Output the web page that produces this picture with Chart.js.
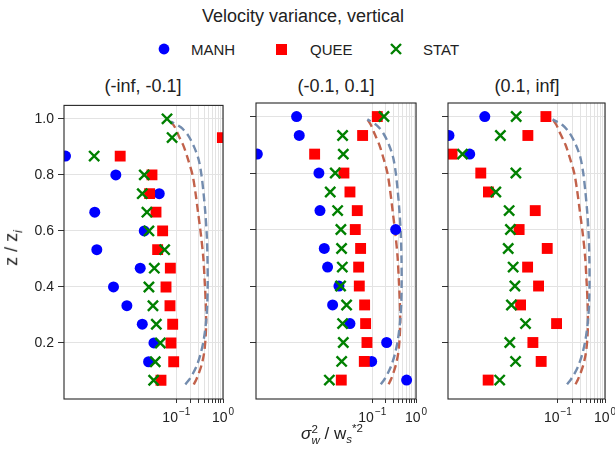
<!DOCTYPE html>
<html>
<head>
<meta charset="utf-8">
<script src="https://cdn.jsdelivr.net/npm/chart.js@4.4.1/dist/chart.umd.min.js"></script>
<style>
  html, body { margin: 0; padding: 0; background: #fff; }
  body { width: 615px; height: 456px; position: relative; overflow: hidden;
         font-family: "Liberation Sans", Arial, sans-serif; color: #222; }
  canvas { position: absolute; }
  .txt { position: absolute; white-space: nowrap; transform: translate(-50%, -50%); }
  #title { left: 303px; top: 16px; font-size: 18px; }
  .panel-title { top: 86px; font-size: 18px; }
  .leg { position: absolute; font-size: 15px; transform: translateY(-50%); top: 49px; }
  .mark { position: absolute; top: 49px; }
  #xtitle { left: 332px; top: 434px; font-size: 17px; }
  #ytitle { left: 13px; top: 248px; font-size: 18px; transform: translate(-50%, -50%) rotate(-90deg); }
  .ss { display: inline-block; vertical-align: -0.45em; font-size: 0.68em; line-height: 0.95; }
  .ss span { display: block; }
  sub, sup { font-size: 0.68em; }
</style>
</head>
<body>
<div id="title" class="txt">Velocity variance, vertical</div>

<svg class="mark" style="left:158px;margin-top:-6px" width="12" height="12"><circle cx="6" cy="6" r="5.4" fill="#0000ff"/></svg>
<div class="leg" style="left:191px">MANH</div>
<svg class="mark" style="left:276px;margin-top:-5px" width="11" height="11"><rect x="0" y="0" width="11" height="11" fill="#ff0000"/></svg>
<div class="leg" style="left:310px">QUEE</div>
<svg class="mark" style="left:390px;margin-top:-6px" width="12" height="12"><path d="M1 1 L11 11 M11 1 L1 11" stroke="#008000" stroke-width="2.4"/></svg>
<div class="leg" style="left:423px">STAT</div>

<div class="txt panel-title" style="left:143px">(-inf, -0.1]</div>
<div class="txt panel-title" style="left:336px">(-0.1, 0.1]</div>
<div class="txt panel-title" style="left:527px">(0.1, inf]</div>

<canvas id="p1"></canvas>
<canvas id="p2"></canvas>
<canvas id="p3"></canvas>

<div id="xtitle" class="txt"><i>σ</i><span class="ss"><span>2</span><span><i>w</i></span></span> / w<sub><i>s</i></sub><sup>*2</sup></div>
<div id="ytitle" class="txt">z / z<sub><i>i</i></sub></div>

<script>
// heights (z / zi), bottom to top
const zLevels = [0.067, 0.133, 0.2, 0.267, 0.333, 0.4, 0.467, 0.533, 0.6, 0.667, 0.733, 0.8, 0.867, 0.933, 1.0];

// (-inf, -0.1]
const manhNeg = [null, 0.0254, 0.0331, 0.0186, 0.00869, 0.00449, 0.0168, 0.00197, 0.0205, 0.00178, 0.043, 0.00504, 0.00042, null, null];
const queeNeg = [0.0468, 0.0877, 0.0767, 0.0834, 0.073, 0.060, 0.0743, 0.0397, 0.0508, 0.0366, 0.0267, 0.030, 0.00625, 0.97, null];
const statNeg = [0.0326, 0.0353, 0.0453, 0.0372, 0.0315, 0.0258, 0.0337, 0.0561, 0.0258, 0.0234, 0.0186, 0.0205, 0.00173, 0.081, 0.063];

// (-0.1, 0.1]
const manhMid = [0.61, 0.0966, 0.213, 0.0308, 0.01235, 0.01725, 0.00948, 0.00796, 0.342, 0.00634, null, 0.0060, 0.000234, 0.00213, 0.00185];
const queeMid = [0.0195, 0.0656, 0.0755, 0.0703, 0.0667, 0.0504, 0.0487, 0.054, 0.0408, 0.0453, 0.0308, 0.0224, 0.00479, 0.060, 0.130];
const statMid = [0.0104, 0.0199, 0.0217, 0.0209, 0.0258, 0.0188, 0.0206, 0.0198, 0.0191, 0.0161, 0.0109, 0.0142, 0.0217, 0.0209, 0.185];

// (0.1, inf]
const manhPos = [null, null, null, null, null, null, null, null, null, null, null, null, 0.00134, 0.000486, 0.0028];
const queePos = [0.0033, 0.0441, 0.0294, 0.0937, 0.0161, 0.0388, 0.0227, 0.0593, 0.0150, 0.033, 0.00335, 0.0023, 0.000565, 0.023, 0.0556];
const statPos = [0.0058, 0.0126, 0.0095, 0.0205, 0.0103, 0.0122, 0.0112, 0.0088, 0.0098, 0.0092, 0.0048, 0.0128, 0.00094, 0.006, 0.013];

// reference profiles (dashed)
const curveAZ = [0.052, 0.07, 0.09, 0.12, 0.16, 0.21, 0.27, 0.34, 0.42, 0.50, 0.58, 0.66, 0.74, 0.80, 0.855, 0.90, 0.94, 0.97, 0.99];
const curveAX = [0.156, 0.19, 0.225, 0.275, 0.33, 0.385, 0.43, 0.46, 0.47, 0.465, 0.45, 0.42, 0.38, 0.345, 0.30, 0.24, 0.18, 0.125, 0.077];
const curveBZ = [0.052, 0.07, 0.09, 0.12, 0.16, 0.21, 0.27, 0.34, 0.42, 0.50, 0.58, 0.66, 0.74, 0.80, 0.855, 0.90, 0.94, 0.97, 0.99];
const curveBX = [0.236, 0.268, 0.30, 0.345, 0.39, 0.42, 0.435, 0.428, 0.405, 0.38, 0.34, 0.295, 0.255, 0.222, 0.178, 0.145, 0.112, 0.093, 0.077];

const yTicks = [0.2, 0.4, 0.6, 0.8, 1.0];
const xTicks = [0.1, 0.2, 0.3, 0.4, 0.5, 0.6, 0.7, 0.8, 0.9, 1.0];
const xLabelExps = [-1, 0];

const FONT = '"Liberation Sans", Arial, sans-serif';
const GRID = '#e3e3e3';

const panels = [
  { id: 'p1', left: 64, right: 223, xMin: 0.00039, yLabels: true, manh: manhNeg, quee: queeNeg, stat: statNeg },
  { id: 'p2', left: 256, right: 416, xMin: 0.000218, yLabels: false, manh: manhMid, quee: queeMid, stat: statMid },
  { id: 'p3', left: 448, right: 605, xMin: 0.000463, yLabels: false, manh: manhPos, quee: queePos, stat: statPos }
];

function points(vals) {
  return zLevels.map((z, i) => ({ x: vals[i], y: z })).filter(p => p.x != null);
}
function curve(zs, xs) {
  return zs.map((z, i) => ({ x: xs[i], y: z }));
}

// box around each panel
const framePlugin = {
  id: 'frame',
  afterDatasetsDraw(chart) {
    const { ctx, chartArea: a } = chart;
    ctx.save();
    ctx.strokeStyle = '#262626';
    ctx.lineWidth = 1.1;
    ctx.strokeRect(a.left, a.top, a.right - a.left, a.bottom - a.top);
    ctx.restore();
  }
};

// 10^n labels on the log axis
const powerLabels = {
  id: 'powerLabels',
  afterDraw(chart) {
    const { ctx, chartArea: a } = chart;
    const sx = chart.scales.x;
    ctx.save();
    ctx.fillStyle = '#222';
    ctx.textBaseline = 'alphabetic';
    ctx.textAlign = 'left';
    xLabelExps.forEach(e => {
      const px = sx.getPixelForValue(Math.pow(10, e));
      const base = '10';
      const sup = e < 0 ? '\u2212' + (-e) : String(e);
      ctx.font = '14px ' + FONT;
      const wb = ctx.measureText(base).width;
      ctx.font = '10px ' + FONT;
      const ws = ctx.measureText(sup).width;
      const x0 = px - (wb + ws + 1) / 2;
      ctx.font = '14px ' + FONT;
      ctx.fillText(base, x0, a.bottom + 23);
      ctx.font = '10px ' + FONT;
      ctx.fillText(sup, x0 + wb + 1, a.bottom + 16);
    });
    ctx.restore();
  }
};

const padTop = 10, padRight = 12, yAxisW = 64, xAxisH = 36;
const areaTop = 103, areaBottom = 399;

panels.forEach(p => {
  const cv = document.getElementById(p.id);
  const w = (p.right - p.left) + yAxisW + padRight;
  const h = (areaBottom - areaTop) + padTop + xAxisH;
  cv.width = w;
  cv.height = h;
  cv.style.left = (p.left - yAxisW) + 'px';
  cv.style.top = (areaTop - padTop) + 'px';

  new Chart(cv.getContext('2d'), {
    type: 'scatter',
    data: {
      datasets: [
        {
          label: 'MANH', data: points(p.manh), order: 2,
          pointStyle: 'circle', pointRadius: 5.5, pointHoverRadius: 5.5,
          backgroundColor: '#0000ff', borderColor: '#0000ff', borderWidth: 0
        },
        {
          label: 'QUEE', data: points(p.quee), order: 1,
          pointStyle: 'rect', pointRadius: 7.7, pointHoverRadius: 7.7,
          backgroundColor: '#ff0000', borderColor: '#ff0000', borderWidth: 0
        },
        {
          label: 'STAT', data: points(p.stat), order: 0,
          pointStyle: 'crossRot', pointRadius: 7.2, pointHoverRadius: 7.2,
          backgroundColor: '#008000', borderColor: '#008000', borderWidth: 2.4
        },
        {
          label: 'ref A', data: curve(curveAZ, curveAX), order: 3,
          showLine: true, pointRadius: 0, borderColor: '#738cae',
          borderWidth: 2.4, borderDash: [8, 4.5], tension: 0.3, fill: false
        },
        {
          label: 'ref B', data: curve(curveBZ, curveBX), order: 4,
          showLine: true, pointRadius: 0, borderColor: '#c2624b',
          borderWidth: 2.4, borderDash: [8, 4.5], tension: 0.3, fill: false
        }
      ]
    },
    options: {
      responsive: false,
      animation: false,
      devicePixelRatio: 1,
      layout: { padding: { top: padTop, right: padRight, left: 0, bottom: 0 } },
      plugins: { legend: { display: false }, tooltip: { enabled: false } },
      scales: {
        x: {
          type: 'logarithmic',
          min: p.xMin,
          max: 1.0,
          afterBuildTicks: s => { s.ticks = xTicks.map(v => ({ value: v })); },
          afterFit: s => { s.height = xAxisH; },
          ticks: { display: false },
          grid: { color: GRID, tickColor: '#333', tickLength: 4, lineWidth: 1 },
          border: { display: false }
        },
        y: {
          type: 'linear',
          min: 0,
          max: 1.048,
          afterBuildTicks: s => { s.ticks = yTicks.map(v => ({ value: v })); },
          afterFit: s => { s.width = yAxisW; },
          ticks: {
            display: p.yLabels,
            padding: 4,
            color: '#222',
            font: { size: 14, family: FONT },
            callback: v => v.toFixed(1)
          },
          grid: { color: GRID, tickColor: '#333', tickLength: 6, lineWidth: 1 },
          border: { display: false }
        }
      }
    },
    plugins: [framePlugin, powerLabels]
  });
});
</script>
</body>
</html>
